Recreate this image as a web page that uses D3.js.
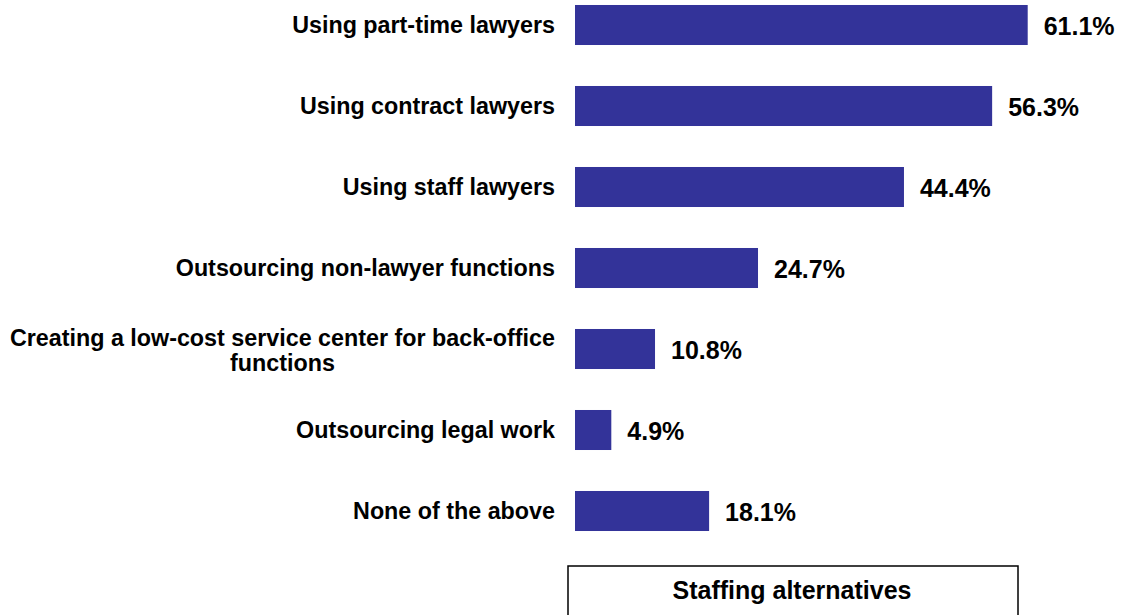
<!DOCTYPE html>
<html>
<head>
<meta charset="utf-8">
<script src="https://cdn.jsdelivr.net/npm/d3@7"></script>
<style>
  body { margin: 0; background: #fff; }
  text { font-family: "Liberation Sans", Arial, sans-serif; font-weight: bold; fill: #000; }
</style>
</head>
<body>
<div id="chart"></div>
<script>
// data
const categories = [
  ["Using part-time lawyers"],
  ["Using contract lawyers"],
  ["Using staff lawyers"],
  ["Outsourcing non-lawyer functions"],
  ["Creating a low-cost service center for back-office", "functions"],
  ["Outsourcing legal work"],
  ["None of the above"]
];
const values = [61.1, 56.3, 44.4, 24.7, 10.8, 4.9, 18.1];
const legendLabel = "Staffing alternatives";

const width = 1122, height = 615;

const svg = d3.select("#chart").append("svg")
  .attr("width", width)
  .attr("height", height);

const keys = categories.map(function(d) { return d.join(" "); });

// scales
const yScale = d3.scaleBand()
  .domain(keys)
  .range([-15.5, 551.5])
  .paddingInner(0.506)
  .paddingOuter(0.253);

const xScale = d3.scaleLinear()
  .domain([0, 61.1])
  .range([575, 1027.7]);

const rows = categories.map(function(c, i) {
  return { key: keys[i], lines: c, value: values[i] };
});

// bars
svg.selectAll(".bar")
  .data(rows)
  .enter().append("rect")
  .attr("class", "bar")
  .attr("x", xScale(0))
  .attr("y", function(d) { return yScale(d.key); })
  .attr("width", function(d) { return xScale(d.value) - xScale(0); })
  .attr("height", yScale.bandwidth())
  .attr("fill", "#333399");

// value labels
svg.selectAll(".val")
  .data(rows)
  .enter().append("text")
  .attr("class", "val")
  .attr("x", function(d) { return xScale(d.value) + 16; })
  .attr("y", function(d) { return yScale(d.key) + yScale.bandwidth() / 2 + 10; })
  .style("font-size", "25px")
  .text(function(d) { return d.value.toFixed(1) + "%"; });

// category labels (multi-line ones are centred as a block, right edge at 555)
const labels = svg.selectAll(".cat")
  .data(rows)
  .enter().append("g")
  .attr("class", "cat");

labels.each(function(d) {
  const g = d3.select(this);
  const mid = yScale(d.key) + yScale.bandwidth() / 2;
  if (d.lines.length === 1) {
    g.append("text")
      .attr("x", 555)
      .attr("y", mid + 8)
      .attr("text-anchor", "end")
      .style("font-size", "23.3px")
      .text(d.lines[0]);
  } else {
    const first = g.append("text")
      .attr("x", 555)
      .attr("y", mid - 3)
      .attr("text-anchor", "end")
      .style("font-size", "23.3px")
      .text(d.lines[0]);
    const w = first.node().getComputedTextLength();
    g.append("text")
      .attr("x", 555 - w / 2)
      .attr("y", mid + 22)
      .attr("text-anchor", "middle")
      .style("font-size", "23.3px")
      .text(d.lines[1]);
  }
});

// legend box
svg.append("rect")
  .attr("x", 568)
  .attr("y", 566)
  .attr("width", 450)
  .attr("height", 80)
  .attr("fill", "none")
  .attr("stroke", "#000")
  .attr("stroke-width", 1.5);

svg.append("text")
  .attr("x", 792)
  .attr("y", 599)
  .attr("text-anchor", "middle")
  .style("font-size", "25px")
  .text(legendLabel);
</script>
</body>
</html>
